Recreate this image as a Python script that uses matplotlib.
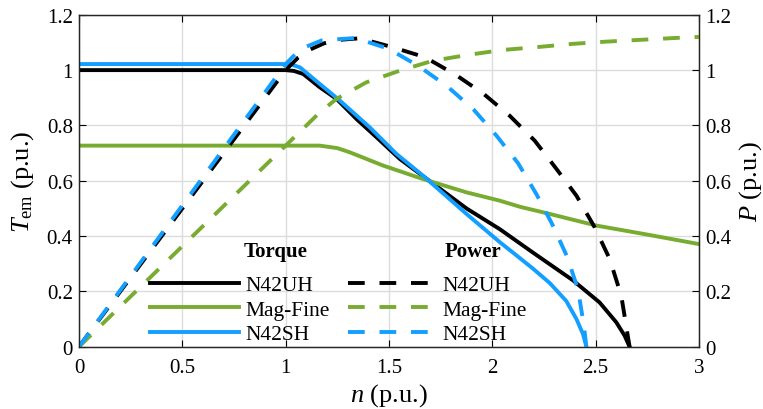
import matplotlib
matplotlib.use("Agg")
import matplotlib.pyplot as plt

plt.rcParams['font.family'] = ['Liberation Serif', 'DejaVu Serif']
plt.rcParams['mathtext.fontset'] = 'custom'
plt.rcParams['mathtext.rm'] = 'Liberation Serif'
plt.rcParams['mathtext.it'] = 'Liberation Serif:italic'

# ---- data ----
n_T_uh = [0, 1.0, 1.04, 1.085, 1.165, 1.246, 1.343, 1.45, 1.552, 1.713, 1.875, 2.036, 2.197, 2.39, 2.519, 2.6, 2.64, 2.664]
T_uh   = [1.0, 1.0, 0.997, 0.986, 0.938, 0.896, 0.823, 0.75, 0.679, 0.59, 0.50, 0.425, 0.34, 0.24, 0.16, 0.088, 0.04, 0.0]

n_T_mf = [0, 1.165, 1.25, 1.31, 1.471, 1.665, 1.875, 2.036, 2.133, 2.278, 2.503, 2.745, 3.0]
T_mf   = [0.727, 0.727, 0.718, 0.703, 0.655, 0.606, 0.558, 0.528, 0.506, 0.48, 0.438, 0.406, 0.371]

n_T_sh = [0, 1.02, 1.069, 1.165, 1.262, 1.407, 1.536, 1.665, 1.875, 2.036, 2.117, 2.197, 2.278, 2.358, 2.407, 2.439, 2.455]
T_sh   = [1.022, 1.022, 1.01, 0.95, 0.89, 0.793, 0.697, 0.618, 0.48, 0.378, 0.33, 0.282, 0.23, 0.165, 0.10, 0.045, 0.0]

n_P_uh = [0, 1.0, 1.06, 1.12, 1.186, 1.27, 1.359, 1.507, 1.673, 1.821, 1.958, 2.084, 2.205, 2.31, 2.407, 2.495, 2.568, 2.624, 2.664]
P_uh   = [0, 1.0, 1.045, 1.075, 1.097, 1.11, 1.115, 1.085, 1.047, 0.984, 0.914, 0.835, 0.745, 0.643, 0.546, 0.432, 0.317, 0.184, 0.0]

n_P_mf = [0, 1.165, 1.246, 1.391, 1.552, 1.713, 1.891, 2.052, 2.213, 2.39, 2.552, 2.729, 2.906, 3.0]
P_mf   = [0, 0.847, 0.896, 0.956, 0.998, 1.034, 1.056, 1.073, 1.083, 1.095, 1.103, 1.11, 1.117, 1.12]

n_P_sh = [0, 1.0, 1.05, 1.1, 1.177, 1.338, 1.499, 1.644, 1.781, 1.91, 2.02, 2.124, 2.213, 2.289, 2.361, 2.415, 2.443, 2.455]
P_sh   = [0, 1.022, 1.06, 1.085, 1.108, 1.116, 1.077, 1.014, 0.942, 0.857, 0.763, 0.664, 0.552, 0.444, 0.327, 0.206, 0.076, 0.0]

labels = ['N42UH', 'Mag-Fine', 'N42SH']
headers = ['Torque', 'Power']
xticks = [0, 0.5, 1, 1.5, 2, 2.5, 3]
xticklabels = ['0', '0.5', '1', '1.5', '2', '2.5', '3']
yticks = [0, 0.2, 0.4, 0.6, 0.8, 1.0, 1.2]
yticklabels = ['0', '0.2', '0.4', '0.6', '0.8', '1', '1.2']

c_black = '#000000'
c_green = '#77AC30'
c_blue = '#139FFF'
lw = 2.8
dash = (4.3, 3.8)

W, H = 763, 410
fig = plt.figure(figsize=(W / 100, H / 100), dpi=100)
ax = fig.add_axes([79 / W, 1 - 347.7 / H, 620 / W, 331.9 / H])
ax2 = ax.twinx()

ax.set_xlim(0, 3)
ax.set_ylim(0, 1.2)
ax2.set_ylim(0, 1.2)

ax.grid(True, color='#dcdcdc', linewidth=1.0)
ax.set_axisbelow(True)

l1, = ax.plot(n_T_uh, T_uh, color=c_black, lw=lw, solid_joinstyle='round')
l2, = ax.plot(n_T_mf, T_mf, color=c_green, lw=lw, solid_joinstyle='round')
l3, = ax.plot(n_T_sh, T_sh, color=c_blue, lw=lw, solid_joinstyle='round')
d1, = ax2.plot(n_P_uh, P_uh, color=c_black, lw=lw, dashes=dash)
d2, = ax2.plot(n_P_mf, P_mf, color=c_green, lw=lw, dashes=dash)
d3, = ax2.plot(n_P_sh, P_sh, color=c_blue, lw=lw, dashes=dash)

ax.set_xticks(xticks)
ax.set_xticklabels(xticklabels)
ax.set_yticks(yticks)
ax.set_yticklabels(yticklabels)
ax2.set_yticks(yticks)
ax2.set_yticklabels(yticklabels)

for a in (ax, ax2):
    a.tick_params(direction='in', length=5, width=0.8, labelsize=15, pad=4.5)
    for s in a.spines.values():
        s.set_linewidth(0.9)
        s.set_color('#262626')
ax.tick_params(top=True, which='both')
ax.tick_params(axis='x', pad=8)

ax.set_xlabel(r'$n$ (p.u.)', fontsize=19, labelpad=3)
ax.set_ylabel(r'$T_{\rm em}$ (p.u.)', fontsize=19, labelpad=8)
ax2.set_ylabel(r'$P$ (p.u.)', fontsize=19, labelpad=4)

leg = ax2.legend([l1, l2, l3, d1, d2, d3], labels + labels, ncol=2,
                 loc='lower left', bbox_to_anchor=(0.115, 0.008),
                 frameon=False, fontsize=15.5, handlelength=4.1,
                 handletextpad=0.3, columnspacing=0.85, labelspacing=0.2,
                 borderpad=0.0, borderaxespad=0.0)

ax2.text((244 - 79) / 620, (347.7 - 252) / 331.9, headers[0], transform=ax2.transAxes,
         fontsize=15, fontweight='bold', ha='left', va='center')
ax2.text((445 - 79) / 620, (347.7 - 252) / 331.9, headers[1], transform=ax2.transAxes,
         fontsize=15, fontweight='bold', ha='left', va='center')

fig.savefig('out.png', dpi=100)
